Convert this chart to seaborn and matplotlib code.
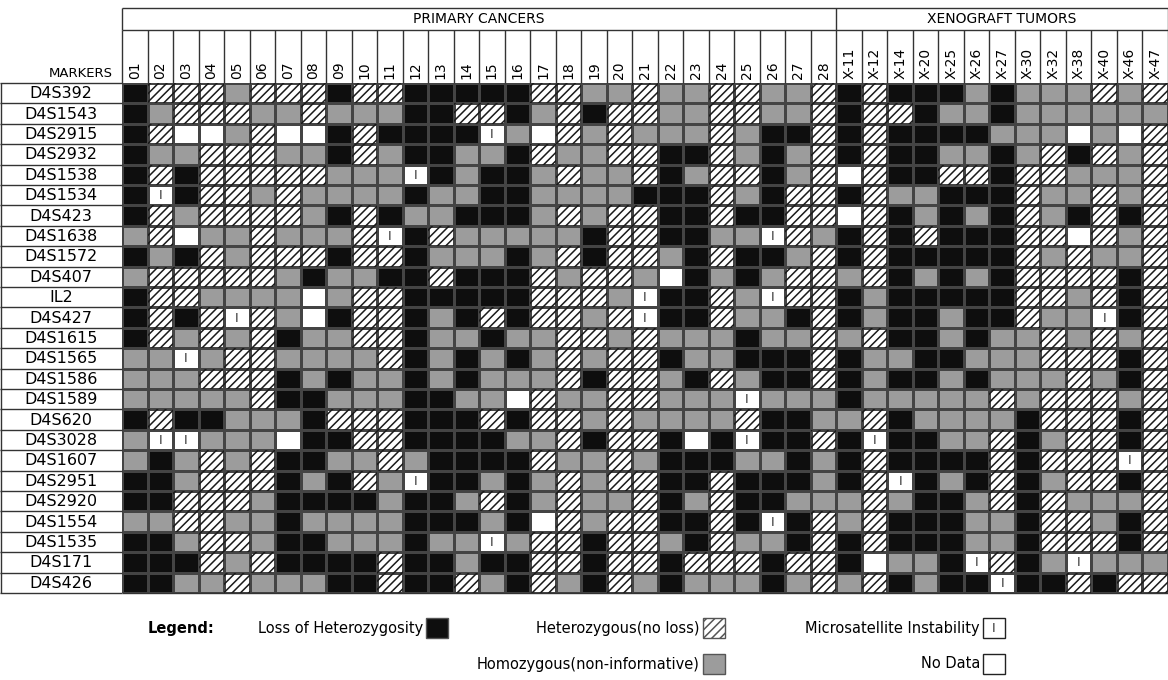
import numpy as np
import pandas as pd
import seaborn as sns
import matplotlib.pyplot as plt
from matplotlib.colors import ListedColormap
from matplotlib.patches import Rectangle

# chromosome 4 markers, top to bottom
markers = ["D4S392", "D4S1543", "D4S2915", "D4S2932", "D4S1538", "D4S1534",
           "D4S423", "D4S1638", "D4S1572", "D4S407", "IL2", "D4S427",
           "D4S1615", "D4S1565", "D4S1586", "D4S1589", "D4S620", "D4S3028",
           "D4S1607", "D4S2951", "D4S2920", "D4S1554", "D4S1535", "D4S171",
           "D4S426"]

primary_cols = ["%02d" % i for i in range(1, 29)]
xeno_cols = ["X-11", "X-12", "X-14", "X-20", "X-25", "X-26", "X-27",
             "X-30", "X-32", "X-38", "X-40", "X-46", "X-47"]

# L = loss of heterozygosity, H = heterozygous (no loss),
# G = homozygous (non-informative), M = microsatellite instability, N = no data
primary_status = [
    "LHHHGHHHLHHLLLLLHHGGHGGHHGGH",
    "LGHHHGGHGGGLLHHLGHLHHGGHHGGH",
    "LHNNGHNNLHLLLLMGNHGHGGGHGLLH",
    "LGGHHHGGLHGLLGGLHGGHHLLHGLGH",
    "LHLHHHHHGGGMLGLLGHGGHLGHHLGH",
    "LMLHHGHGGGGLGGLLGGGGLLLHGLHH",
    "LHGHHHHGLHLGGLLLGHGHHLLHLLHH",
    "GHNGGHGGGHMLHGGGGGLHHLLGGMHG",
    "LGLHGHHHLHHLGGGLGHLHHGLHLLGH",
    "GHHHHHGLGGLLHLLLHGHHGNLGLGHH",
    "LHHGGGGNGHHLLLLLHHHGMLLHGMHH",
    "LHLHMHGNLHHLGLHLHHGHMLLHGGLH",
    "LHGHGHLGGHHLGGLGGHHGHGGGLGGH",
    "GGMGHHGGGGHLGLGLGHGHHLGGLLLH",
    "GGGHHHLGLGGLGLGGGHLHHGLHGLLH",
    "GGGGGHLLGGGLLGGNHGGHHGGGMGGG",
    "LHLLGGGLHHHLLLHLHHGHGGGGHLLG",
    "GMMGGGNLLHHLLLLGGHLHHLNLMLLH",
    "GLGHGHLLGGHGLLLLHGGHGLLLGGLG",
    "LLGHHHLGLHGMLLGLGHGHHLLHLLLG",
    "LLHHHGLLLLGLLGHLGHGGHLGHLLGG",
    "GGHHGGLGGGGLLLGLNHGHHLLHLMLH",
    "LLGHHGLLGGGLGGMGHHLHHGLHGGLH",
    "LLLHGHLLLLHLLGLLHHLHHLHHHLHH",
    "LLGGHGGGLLHLLHGLHGLHGLGGGLGH",
]
xeno_status = [
    "LHLLLGLGGGHGH",
    "LHHLGGLGGGGGG",
    "LHLLLLGGGNGNH",
    "LHLLGGLGHLHGH",
    "NHLLHHLHHGGGH",
    "LHGGLLLHGGHGH",
    "NHLGLGLHGLHLH",
    "LHLHLLLHHNHGH",
    "LHLLLLLHGHGGH",
    "GHLGLGLHHHHLH",
    "LGLLLLLHHGHLH",
    "LGLLGLLHGGMLH",
    "GHLLGLGGHGHGH",
    "LGGLLGGGHHHLH",
    "LGLLGLGGGHGLH",
    "LGGGGGHGHHHGH",
    "GHLGGGGLHHHLH",
    "LMLLGGHLGHHLH",
    "LHLLLLHLHHHMH",
    "LHMLGLHLGHHLH",
    "GHGLLGHLHGGGH",
    "GHLLLGGLHHGLH",
    "LHLLLGGLHHHLH",
    "LNGGLMHLGMGGG",
    "GHLGLLMLLHLHH",
]

codes = {"L": 0, "H": 1, "G": 2, "M": 3, "N": 4}
cols = primary_cols + xeno_cols
df = pd.DataFrame([[codes[c] for c in p + x] for p, x in zip(primary_status, xeno_status)],
                  index=markers, columns=cols)

plt.rcParams["hatch.linewidth"] = 1.1
plt.rcParams["font.family"] = "DejaVu Sans"

W, H = 1168, 680
fig = plt.figure(figsize=(W / 100, H / 100), dpi=100)
ax = fig.add_axes([122 / W, 1 - 593 / H, 1046 / W, 510 / H])

black, gray = "#0e0e0e", "#9c9c9c"
cmap = ListedColormap([black, "white", gray, "white", "white"])
sns.heatmap(df, ax=ax, cmap=cmap, vmin=-0.5, vmax=4.5, cbar=False,
            linewidths=0.8, linecolor="#444444",
            xticklabels=True, yticklabels=False)

# hatching for heterozygous cells, bar for microsatellite instability
status = df.to_numpy()
for r, c in np.argwhere(status == codes["H"]):
    ax.add_patch(Rectangle((c, r), 1, 1, facecolor="none", edgecolor="#1a1a1a",
                           hatch="////", linewidth=0))
for r, c in np.argwhere(status == codes["M"]):
    ax.text(c + 0.5, r + 0.52, "I", ha="center", va="center", fontsize=9, color="#333333")

nrow, ncol = df.shape
npri = len(primary_cols)

# column labels on top
ax.xaxis.tick_top()
ax.set_xticklabels(cols, rotation=90, fontsize=10)
ax.tick_params(axis="x", length=0, pad=3)
ax.set_xlabel("")
ax.set_ylabel("")

# header boxes
lab_top, grp_top = -2.6, -3.68
kw = dict(color="#333333", linewidth=1.0, clip_on=False)
ax.hlines([grp_top, lab_top], 0, ncol, **kw)
ax.vlines(np.arange(ncol + 1), lab_top, 0, **kw)
ax.vlines([0, npri, ncol], grp_top, lab_top, **kw)
ax.text(npri / 2, (grp_top + lab_top) / 2, "PRIMARY CANCERS", ha="center", va="center", fontsize=10)
ax.text((npri + ncol) / 2, (grp_top + lab_top) / 2, "XENOGRAFT TUMORS", ha="center", va="center", fontsize=10)

# row label boxes
lw = 122 / (1046 / ncol)
ax.hlines(np.arange(nrow + 1), -lw, 0, **kw)
ax.vlines([-lw + 0.03], 0, nrow, **kw)
ax.hlines([nrow], 0, ncol, **kw)
for i, name in enumerate(markers):
    ax.text(-lw / 2, i + 0.52, name, ha="center", va="center", fontsize=11.5)
ax.text(-0.35, -0.15, "MARKERS", ha="right", va="bottom", fontsize=9.5)

ax.set_xlim(0, ncol)
ax.set_ylim(nrow, 0)

# legend
def fx(px):
    return px / W

def fy(py):
    return 1 - py / H

fig.text(fx(148), fy(628), "Legend:", ha="left", va="center", fontsize=10.5, fontweight="bold")
legend_items = [
    ("Loss of Heterozygosity", "L", 423, 628),
    ("Heterozygous(no loss)", "H", 700, 628),
    ("Microsatellite Instability", "M", 980, 628),
    ("Homozygous(non-informative)", "G", 700, 664),
    ("No Data", "N", 980, 664),
]
for label, code, xr, yc in legend_items:
    fig.text(fx(xr), fy(yc), label, ha="right", va="center", fontsize=10.5)
    x0 = xr + 3
    face = {"L": black, "G": gray}.get(code, "white")
    edge = "#222222" if code in "MN" else "#555555"
    fig.add_artist(Rectangle((fx(x0), fy(yc + 10)), 22 / W, 20 / H, transform=fig.transFigure,
                             facecolor=face, edgecolor=edge, linewidth=1.0,
                             hatch="////" if code == "H" else None))
    if code == "M":
        fig.text(fx(x0 + 11), fy(yc), "I", ha="center", va="center", fontsize=9, color="#333333")

plt.savefig("out.png", dpi=100)
